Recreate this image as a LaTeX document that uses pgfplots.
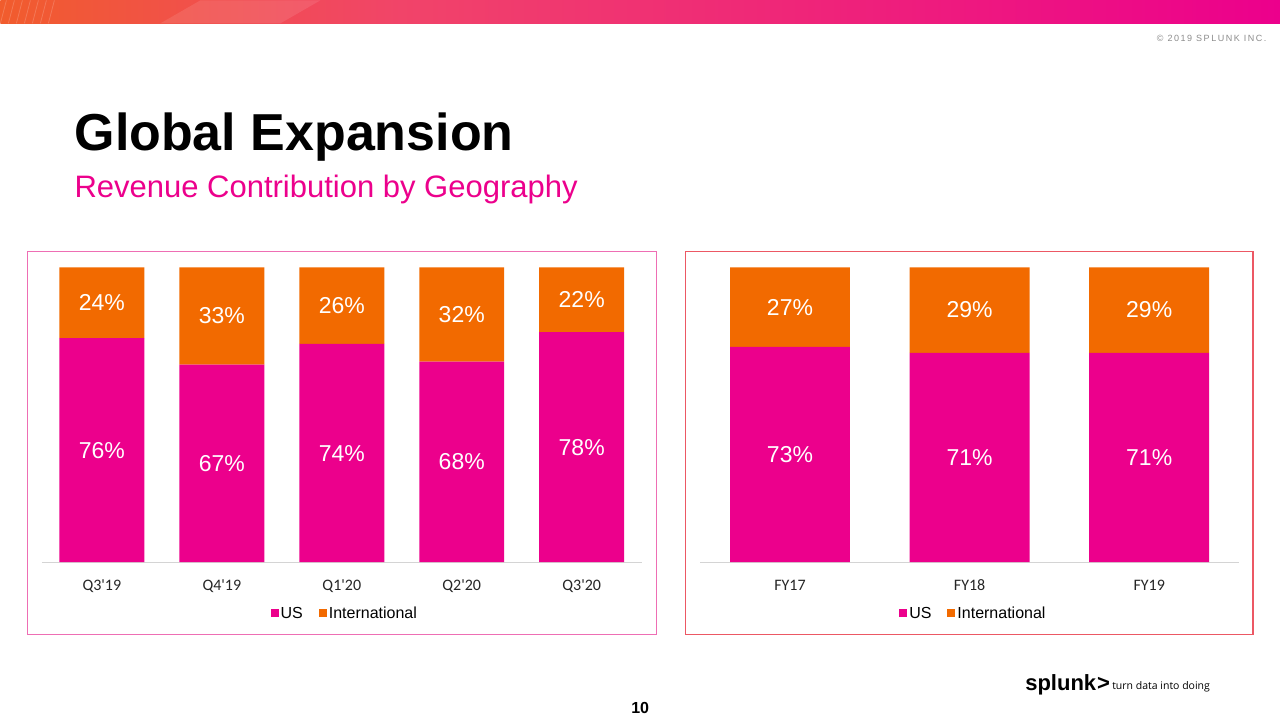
\documentclass[border=0pt]{standalone}
\usepackage{pgfplots}
\pgfplotsset{compat=1.18}
\usepackage{fontspec}
\setmainfont{Liberation Sans}
\newfontfamily\carlito{Carlito}
\newfontfamily\opensans{Open Sans}
\definecolor{spPink}{RGB}{236,0,140}
\definecolor{spOrange}{RGB}{242,106,0}
\definecolor{panelL}{RGB}{238,110,180}
\definecolor{panelR}{RGB}{236,88,100}
\definecolor{axgray}{RGB}{212,212,212}
\definecolor{barA}{RGB}{241,92,45}
\definecolor{barB}{RGB}{241,68,105}
\definecolor{barC}{RGB}{236,0,140}

\pgfplotsset{
  splunkbars/.style={
    scale only axis, height=295pt,
    ybar stacked, ymin=0, ymax=100,
    xtick=data, ytick=\empty,
    axis x line*=bottom, axis y line=none,
    x axis line style={draw=axgray, line width=0.9pt},
    major tick length=0pt,
    xticklabel style={font=\carlito\fontsize{16}{18}\selectfont, text=black!85,
      text height=10pt, text depth=2pt, yshift=-14.5pt},
    legend columns=2,
    legend style={draw=none, fill=none, font=\fontsize{16}{18}\selectfont,
      anchor=center, /tikz/every even column/.append style={column sep=14pt}},
    legend image code/.code={\fill[##1] (1pt,-4pt) rectangle (9pt,4pt);},
    clip=false,
  },
  splunklabels/.style={
    scale only axis, height=295pt, ymin=0, ymax=100, hide axis, clip=false,
  },
  lab/.style={draw=none, mark=none, nodes near coords={\pgfmathprintnumber{\pgfplotspointmeta}\%},
    point meta=explicit, nodes near coords align=center,
    /pgf/number format/assume math mode=true,
    every node near coord/.append style={text=white, font=\fontsize{23}{25}\selectfont, anchor=center}},
}

\begin{document}
\begin{tikzpicture}[x=1pt,y=1pt]
\fill[white] (0,0) rectangle (1280,720);
% top bar
\shade[left color=barA, right color=barB] (0,697) rectangle (400.5,720);
\shade[left color=barB, right color=barC] (400,697) rectangle (1280,720);
\fill[white, opacity=0.10] (200,720) -- (320,720) -- (280,697) -- (160,697) -- cycle;
\foreach \s in {0,8,...,48} {\draw[white, opacity=0.18, line width=0.8pt] (\s+6,720) -- (\s,697);}

\node[anchor=east, text=black!45, font=\fontsize{9}{10}\selectfont\addfontfeature{LetterSpace=17}] at (1270,682) {© 2019 SPLUNK INC.};

\node[anchor=base west, inner sep=0pt, font=\bfseries\fontsize{52}{56}\selectfont] at (74,570) {Global Expansion};
\node[anchor=base west, inner sep=0pt, text=spPink, font=\fontsize{31}{34}\selectfont] at (74,523) {Revenue Contribution by Geography};

% panels
\draw[panelL, line width=1.3pt] (27,86) rectangle (656,469);
\draw[panelR, line width=1.3pt] (685,86) rectangle (1253,469);

% left chart
\begin{axis}[splunkbars, at={(41.5pt,158pt)}, anchor=south west, width=600pt,
  bar width=85pt, xmin=-0.5, xmax=4.5,
  xticklabels={Q3\textquotesingle19,Q4\textquotesingle19,Q1\textquotesingle20,Q2\textquotesingle20,Q3\textquotesingle20},
  legend style={at={(0.505,-0.173)}}]
\addplot[fill=spPink, draw=none] coordinates {(0,76) (1,67) (2,74) (3,68) (4,78)};
\addplot[fill=spOrange, draw=none] coordinates {(0,24) (1,33) (2,26) (3,32) (4,22)};
\legend{US,International}
\end{axis}
\begin{axis}[splunklabels, at={(41.5pt,158pt)}, anchor=south west, width=600pt, xmin=-0.5, xmax=4.5]
\addplot[lab] table[x=x, y=y, meta=v] {
x y v
0 38 76
1 33.5 67
2 37 74
3 34 68
4 39 78
0 88 24
1 83.5 33
2 87 26
3 84 32
4 89 22
};
\end{axis}

% right chart
\begin{axis}[splunkbars, at={(700pt,158pt)}, anchor=south west, width=539pt,
  bar width=120pt, xmin=-0.5, xmax=2.5,
  xticklabels={FY17,FY18,FY19},
  legend style={at={(0.507,-0.173)}}]
\addplot[fill=spPink, draw=none] coordinates {(0,73) (1,71) (2,71)};
\addplot[fill=spOrange, draw=none] coordinates {(0,27) (1,29) (2,29)};
\legend{US,International}
\end{axis}
\begin{axis}[splunklabels, at={(700pt,158pt)}, anchor=south west, width=539pt, xmin=-0.5, xmax=2.5]
\addplot[lab] table[x=x, y=y, meta=v] {
x y v
0 36.5 73
1 35.5 71
2 35.5 71
0 86.5 27
1 85.5 29
2 85.5 29
};
\end{axis}

% footer
\node[font=\bfseries\fontsize{16}{18}\selectfont] at (640,12) {10};
\node[anchor=base west, inner sep=0pt, font=\bfseries\fontsize{22}{24}\selectfont] at (1025,30) {splunk\kern1pt>};
\node[anchor=base west, inner sep=0pt, font=\opensans\fontsize{10.5}{12}\selectfont] at (1112,31) {turn data into doing};
\end{tikzpicture}
\end{document}
